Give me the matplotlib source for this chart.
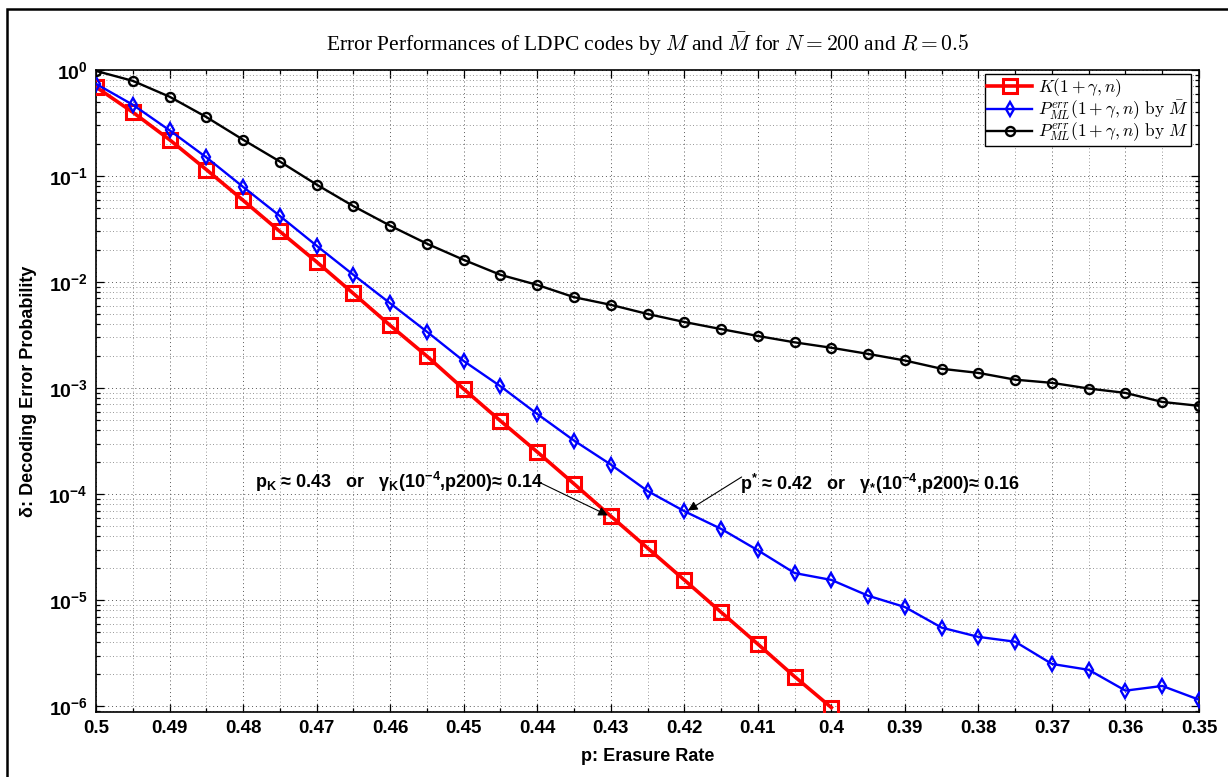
import numpy as np
import matplotlib
matplotlib.use("Agg")
import matplotlib.pyplot as plt
from matplotlib.patches import Rectangle
from matplotlib.ticker import FixedLocator, NullFormatter

# fonts: CM math for title / legend, bold sans for ticks and notes
plt.rcParams['font.family'] = 'Liberation Sans'
plt.rcParams['mathtext.fontset'] = 'cm'
plt.rcParams['mathtext.rm'] = 'Liberation Sans'
plt.rcParams['mathtext.it'] = 'Liberation Sans:italic'
plt.rcParams['mathtext.bf'] = 'Liberation Sans:bold'

# erasure rate grid
p_all = [0.5, 0.495, 0.49, 0.485, 0.48, 0.475, 0.47, 0.465, 0.46, 0.455,
         0.45, 0.445, 0.44, 0.435, 0.43, 0.425, 0.42, 0.415, 0.41, 0.405,
         0.4, 0.395, 0.39, 0.385, 0.38, 0.375, 0.37, 0.365, 0.36, 0.355, 0.35]
p_K = p_all[:21]

# K(1+gamma, n)
err_K = [0.69, 0.40, 0.22, 0.115, 0.059, 0.030, 0.0155, 0.0078, 0.0039, 0.0020,
         0.00098, 0.00049, 0.00025, 0.000125, 6.2e-5, 3.1e-5, 1.55e-5, 7.7e-6,
         3.85e-6, 1.9e-6, 9.7e-7]
# P_ML by M-bar
err_Mbar = [0.74, 0.47, 0.27, 0.15, 0.079, 0.042, 0.022, 0.0117, 0.0063, 0.0034,
            0.0018, 0.00104, 0.00057, 0.00032, 0.00019, 0.000107, 6.9e-5, 4.7e-5,
            2.95e-5, 1.8e-5, 1.55e-5, 1.1e-5, 8.6e-6, 5.5e-6, 4.5e-6, 4.05e-6,
            2.5e-6, 2.2e-6, 1.4e-6, 1.55e-6, 1.15e-6]
# P_ML by M
err_M = [0.98, 0.79, 0.56, 0.36, 0.22, 0.137, 0.083, 0.052, 0.034, 0.023,
         0.0162, 0.0117, 0.0094, 0.0072, 0.0061, 0.0050, 0.0042, 0.0036, 0.0031,
         0.0027, 0.0024, 0.0021, 0.00182, 0.00152, 0.00139, 0.0012, 0.00112,
         0.00099, 0.0009, 0.00074, 0.00068]

xticks = [0.5, 0.49, 0.48, 0.47, 0.46, 0.45, 0.44, 0.43, 0.42, 0.41,
          0.4, 0.39, 0.38, 0.37, 0.36, 0.35]
xtick_labels = ['0.5', '0.49', '0.48', '0.47', '0.46', '0.45', '0.44', '0.43',
                '0.42', '0.41', '0.4', '0.39', '0.38', '0.37', '0.36', '0.35']
yexp = [-6, -5, -4, -3, -2, -1, 0]

fig = plt.figure(figsize=(12.28, 7.77), dpi=100)
ax = fig.add_axes([0.0782, 0.0837, 0.8982, 0.8262])

ax.plot(p_K, err_K, color='#ff0000', lw=2.6, marker='s', ms=10, mew=2.2,
        mfc='none', label=r'$K(1+\gamma,n)$', zorder=3)
ax.plot(p_all, err_Mbar, color='#0000ff', lw=1.7, marker='d', ms=7, mew=1.7,
        mfc='none', label=r'$P_{ML}^{err}(1+\gamma,n)\ \mathrm{by}\ \bar{M}$', zorder=3)
ax.plot(p_all, err_M, color='black', lw=1.7, marker='o', ms=6.5, mew=1.7,
        mfc='none', label=r'$P_{ML}^{err}(1+\gamma,n)\ \mathrm{by}\ M$', zorder=3)

ax.set_yscale('log')
ax.set_xlim(0.5, 0.35)
ax.set_ylim(10 ** (-6.055), 1.0)

ax.xaxis.set_major_locator(FixedLocator(xticks))
ax.set_xticklabels(xtick_labels, fontsize=13.5, fontweight='bold')
ax.xaxis.set_minor_locator(FixedLocator(np.arange(0.35, 0.5001, 0.005)))
ax.xaxis.set_minor_formatter(NullFormatter())

yt = [10.0 ** e for e in yexp]
ax.yaxis.set_major_locator(FixedLocator(yt))
ax.set_yticklabels([r'$\mathbf{10^{%d}}$' % e for e in yexp], fontsize=14,
                   math_fontfamily='custom')
minors = [m * 10.0 ** e for e in range(-7, 1) for m in range(2, 10)]
ax.yaxis.set_minor_locator(FixedLocator(minors))
ax.yaxis.set_minor_formatter(NullFormatter())

ax.tick_params(which='both', direction='in', top=True, right=True, width=0.9)
ax.tick_params(which='major', length=6, pad=6)
ax.tick_params(which='minor', length=3)
for s in ax.spines.values():
    s.set_linewidth(1.2)

ax.grid(True, which='major', linestyle=(0, (1, 3)), color='0.35', lw=0.7)
ax.grid(True, which='minor', linestyle=(0, (1, 3)), color='0.45', lw=0.6)
ax.set_axisbelow(True)

ax.set_xlabel('p: Erasure Rate', fontsize=13, fontweight='bold', labelpad=8)
ax.set_ylabel('δ: Decoding Error Probability', fontsize=13, fontweight='bold', labelpad=8)
ax.set_title(r'Error Performances of LDPC codes by $M$ and $\bar{M}$ for $N=200$ and $R=0.5$',
             family='Liberation Serif', fontsize=15.5, pad=14)

leg = ax.legend(loc='upper right', bbox_to_anchor=(0.994, 0.997), fontsize=12.5,
                fancybox=False, edgecolor='black', framealpha=1,
                borderpad=0.15, labelspacing=-0.05, handlelength=2.6,
                handletextpad=0.3, borderaxespad=0.1)
leg.get_frame().set_linewidth(1.0)

# annotations
ax.text(0.4784, 1.3e-4,
        r'p$_\mathbf{K}$ ≈ 0.43   or   γ$_\mathbf{K}$(10$^\mathbf{-4}$,p200)≈ 0.14',
        fontsize=13, fontweight='bold', math_fontfamily='custom', va='center', ha='left')
ax.annotate('', xy=(0.4304, 6.3e-5), xytext=(0.4398, 1.3e-4),
            arrowprops=dict(arrowstyle='-|>', color='black', lw=0.8,
                            mutation_scale=14, shrinkA=0, shrinkB=0))
ax.text(0.4124, 1.25e-4,
        r'p$^\mathbf{*}$ ≈ 0.42   or   γ$_\mathbf{*}$(10$^\mathbf{-4}$,p200)≈ 0.16',
        fontsize=13, fontweight='bold', math_fontfamily='custom', va='center', ha='left')
ax.annotate('', xy=(0.4195, 7.0e-5), xytext=(0.4122, 1.45e-4),
            arrowprops=dict(arrowstyle='-|>', color='black', lw=0.8,
                            mutation_scale=14, shrinkA=0, shrinkB=0))

# outer frame (cut off at right/bottom as in the original)
fig.patches.append(Rectangle((7 / 1228, -0.05), 1.2, 1 - 9 / 777 + 0.05,
                             transform=fig.transFigure, fill=False,
                             edgecolor='black', lw=1.8, clip_on=False))

fig.savefig('out.png', dpi=100)
